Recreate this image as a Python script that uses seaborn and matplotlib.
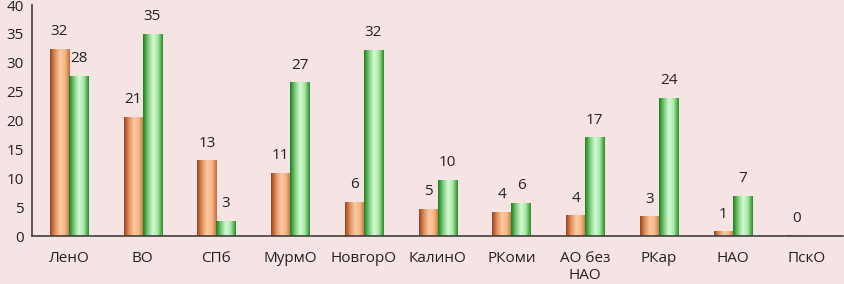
import numpy as np
import pandas as pd
import seaborn as sns
import matplotlib.pyplot as plt
from matplotlib.colors import LinearSegmentedColormap

# regions
regions = ["ЛенО", "ВО", "СПб", "МурмО", "НовгорО", "КалинО",
           "РКоми", "АО без\nНАО", "РКар", "НАО", "ПскО"]

# two series
series_a = [32.4, 20.7, 13.1, 10.9, 5.9, 4.7, 4.2, 3.6, 3.4, 0.8, 0.1]
series_b = [27.7, 35.0, 2.6, 26.6, 32.2, 9.7, 5.7, 17.1, 23.9, 6.9, np.nan]
series_names = ["A", "B"]

df = pd.DataFrame({
    "region": regions * 2,
    "series": [series_names[0]] * len(regions) + [series_names[1]] * len(regions),
    "value": series_a + series_b,
})

bg = "#f6e4e4"
sns.set_style("white")
plt.rcParams["font.family"] = ["Open Sans", "DejaVu Sans"]

fig = plt.figure(figsize=(8.45, 2.84), dpi=100, facecolor=bg)
ax = fig.add_axes([0.038, 0.169, 0.96, 0.813])
ax.set_facecolor(bg)

sns.barplot(data=df, x="region", y="value", hue="series", order=regions,
            hue_order=series_names, palette=["#e8a070", "#80d080"],
            width=0.52, gap=0, legend=False, ax=ax, zorder=2)

# gradient fills for the bars
cmaps = [
    LinearSegmentedColormap.from_list("orange", ["#9a4420", "#e0915c", "#fcc9a2", "#f6b888", "#c66e3c"]),
    LinearSegmentedColormap.from_list("green", ["#1f7f1f", "#7ccc7c", "#d4fad4", "#a6e8a6", "#2a8a2a"]),
]
grad = np.linspace(0, 1, 64).reshape(1, -1)
for cont, cmap in zip(ax.containers, cmaps):
    for bar in cont:
        h = bar.get_height()
        if not np.isfinite(h) or h <= 0:
            continue
        x, y, w = bar.get_x(), bar.get_y(), bar.get_width()
        im = ax.imshow(grad, cmap=cmap, aspect="auto", interpolation="bilinear",
                       extent=(x, x + w, y, y + max(h, 0.15)), zorder=2)
        im.set_clip_on(True)
        if h > 0.5:
            im.set_clip_path(bar)
        bar.set_facecolor("none")
        bar.set_edgecolor("none")
    ax.bar_label(cont, fmt="%.0f", padding=7, fontsize=11, color="#222222")

ax.set_xlim(-0.5, len(regions) - 0.5)
ax.set_ylim(0, 40)
ax.set_yticks(range(0, 41, 5))
ax.set_xlabel("")
ax.set_ylabel("")

# ticks between categories
ax.set_xticks(np.arange(-0.5, len(regions), 1), minor=True)
ax.tick_params(axis="x", which="major", length=0, pad=11, labelsize=11, colors="#222222")
ax.tick_params(axis="x", which="minor", length=5, direction="out", color="#404040")
ax.tick_params(axis="y", length=4, direction="out", labelsize=11, colors="#222222", color="#404040")
ax.tick_params(axis="y", pad=2)

for side in ["top", "right"]:
    ax.spines[side].set_visible(False)
for side in ["left", "bottom"]:
    ax.spines[side].set_color("#404040")
    ax.spines[side].set_linewidth(1.2)

fig.savefig("out.png", dpi=100, facecolor=bg)
